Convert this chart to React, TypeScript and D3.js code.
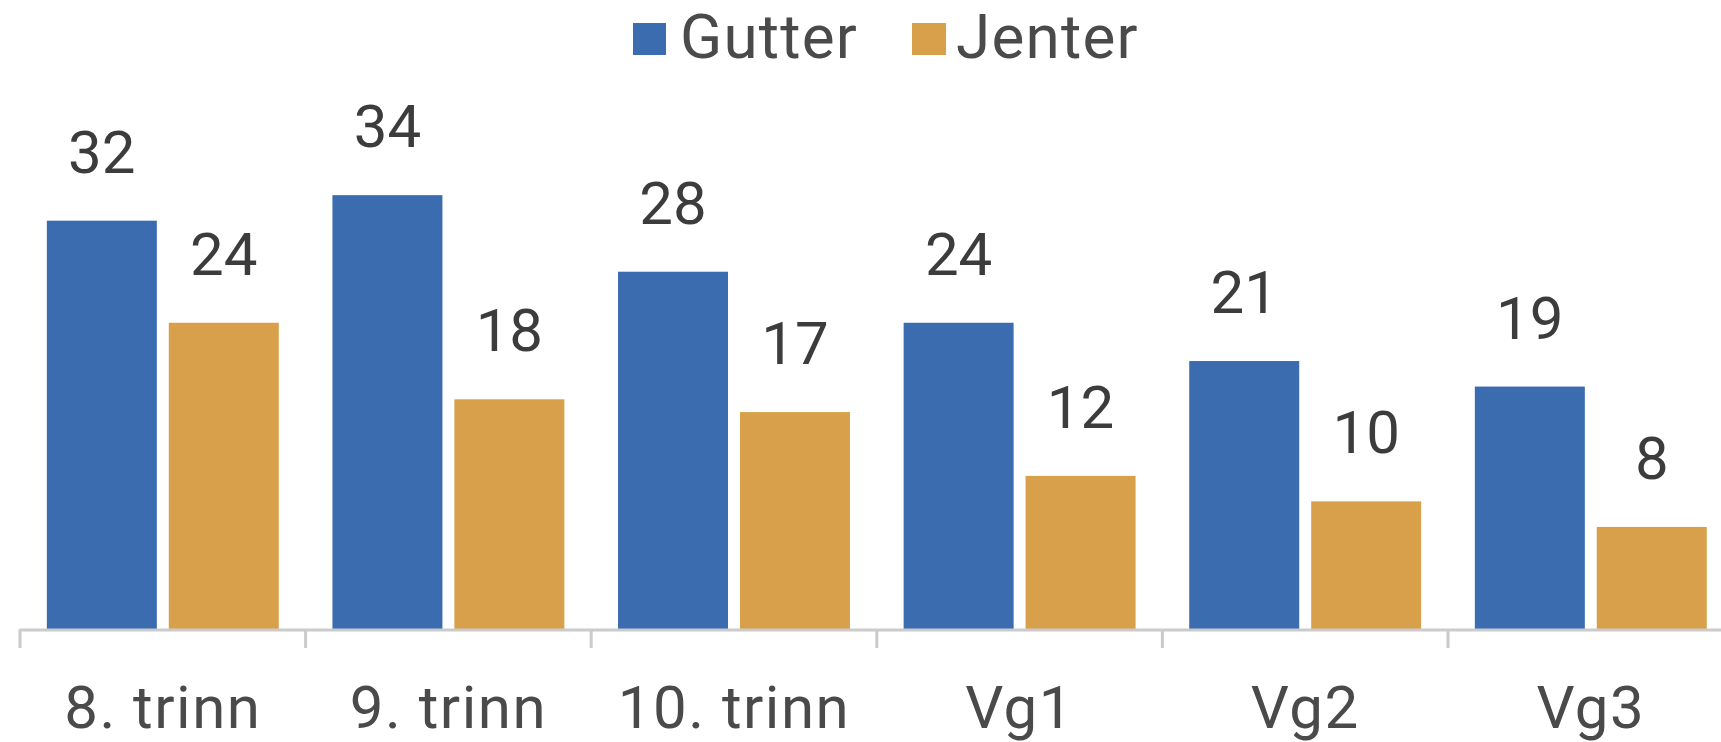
import React from 'react';
import * as d3 from 'd3';

const categories = ['8. trinn', '9. trinn', '10. trinn', 'Vg1', 'Vg2', 'Vg3'];
const seriesNames = ['Gutter', 'Jenter'];
const gutter = [32, 34, 28, 24, 21, 19];
const jenter = [24, 18, 17, 12, 10, 8];
const seriesColors = ['#3b6cb0', '#d8a04a'];

const W = 1721;
const H = 742;
const FONT = 'Roboto, "Open Sans", sans-serif';
const TEXT = '#3c3c3c';
const SOFT = '#4a4a4a';

const App = () => {
    const baseY = 629;
    const step = 285.6;
    const left = 20;

    const x = d3.scaleBand<string>()
        .domain(categories)
        .range([left, left + step * categories.length]);

    const xSub = d3.scaleBand<string>()
        .domain(seriesNames)
        .range([0, step])
        .paddingInner(0.098)
        .paddingOuter(0.22);

    const y = d3.scaleLinear()
        .domain([0, 40])
        .range([baseY, baseY - 40 * 12.76]);

    const values = [gutter, jenter];

    return (
        <svg width={W} height={H} style={{ position: 'absolute', left: 0, top: 0, background: '#fff' }}>
            {/* legend */}
            <g fontFamily={FONT} fontSize={62} fill={SOFT} letterSpacing={1.2}>
                <rect x={633} y={23} width={33} height={32} fill={seriesColors[0]} />
                <text x={680} y={58}>{seriesNames[0]}</text>
                <rect x={912} y={23} width={34} height={32} fill={seriesColors[1]} />
                <text x={956} y={58}>{seriesNames[1]}</text>
            </g>

            {/* bars + value labels */}
            {categories.map((c, i) => (
                <g key={c} transform={`translate(${x(c)},0)`}>
                    {seriesNames.map((s, k) => {
                        const v = values[k][i];
                        const bx = xSub(s) as number;
                        const bw = xSub.bandwidth();
                        return (
                            <g key={s}>
                                <rect x={bx} y={y(v)} width={bw} height={baseY - y(v)} fill={seriesColors[k]} />
                                <text
                                    x={bx + bw / 2}
                                    y={y(v) - 48}
                                    textAnchor="middle"
                                    fontFamily={FONT}
                                    fontSize={60}
                                    fill={TEXT}
                                >
                                    {v}
                                </text>
                            </g>
                        );
                    })}
                </g>
            ))}

            {/* axis */}
            <line x1={left} x2={W} y1={baseY + 1} y2={baseY + 1} stroke="#cbcbcb" strokeWidth={3} />
            {categories.map(c => (
                <line key={c} x1={x(c)} x2={x(c)} y1={baseY} y2={baseY + 19} stroke="#cbcbcb" strokeWidth={3} />
            ))}
            {categories.map(c => (
                <text
                    key={c}
                    x={(x(c) as number) + x.bandwidth() / 2}
                    y={728}
                    textAnchor="middle"
                    fontFamily={FONT}
                    fontSize={60}
                    letterSpacing={1.5}
                    fill={SOFT}
                >
                    {c}
                </text>
            ))}
        </svg>
    );
};

export default App;
